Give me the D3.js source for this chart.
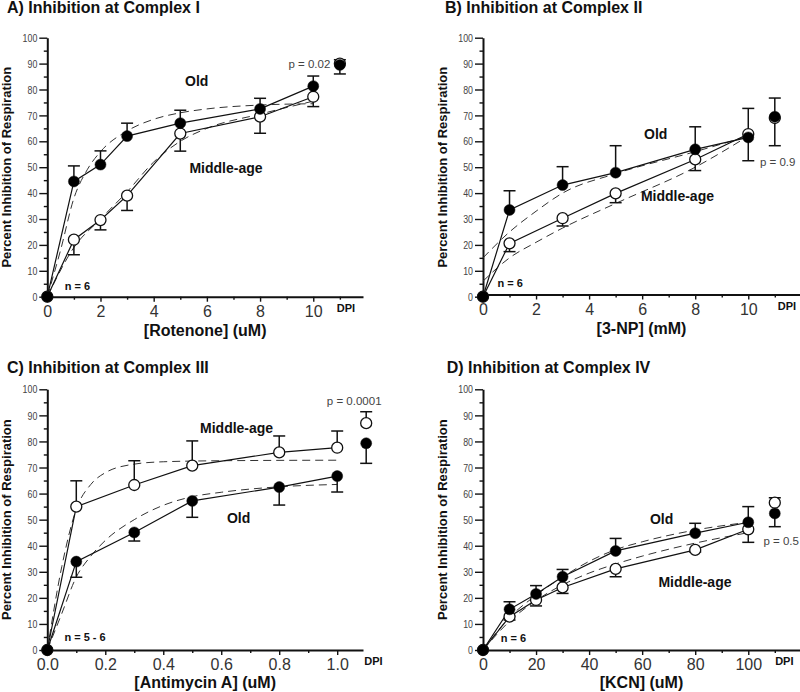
<!DOCTYPE html>
<html>
<head>
<meta charset="utf-8">
<script src="https://cdn.jsdelivr.net/npm/d3@7"></script>
<style>
  body { margin: 0; background: #fff; }
  svg { display: block; font-family: "Liberation Sans", Arial, sans-serif; }
</style>
</head>
<body>
<svg id="chart" width="800" height="692"></svg>
<script>
// shared y axis ticks
const yTicks = [0, 10, 20, 30, 40, 50, 60, 70, 80, 90, 100];
const yMinor = [5, 15, 25, 35, 45, 55, 65, 75, 85, 95];

// A) rotenone (uM) -- err > 0 is drawn up, < 0 down
const rotDose = [0, 1, 2, 3, 5, 8, 10];
const rotOld = [0, 44.5, 51, 62, 67, 72.5, 81.3];
const rotOldErr = [0, 6, 5.3, 5, 5, 4.1, 3.9];
const rotMid = [0, 22, 29.6, 39, 63, 69.5, 77.2];
const rotMidErr = [0, -5.8, -3.8, -5.7, -6.8, -6.4, -3.8];
const rotDpi = [89.5, 90];        // [old, middle-age]
const rotDpiErr = [-3.5, 1.5];
const rotOldFit = [[0, 0], [0.5, 18], [1, 38], [1.5, 49], [2, 56], [3, 64], [4, 68.5], [5, 71], [6, 72.5], [8, 74], [10, 74.5]];
const rotMidFit = [[0, 0], [1, 19], [2, 30], [3, 40.5], [4, 52], [5, 60], [6, 65], [8, 70.5], [10, 75.5]];
const rotTicks = [0, 2, 4, 6, 8, 10];
const rotMinor = [1, 3, 5, 7, 9, 11];

// B) 3-NP (mM)
const npDose = [0, 1, 3, 5, 8, 10];
const npOld = [0, 33.5, 43.1, 47.9, 56.9, 61.5];
const npOldErr = [0, 7.4, 7.1, 10.4, 8.7, -9];
const npMid = [0, 20.6, 30.3, 39.9, 53, 62.8];
const npMidErr = [0, -3.2, -3, -3.6, -4.3, 9.9];
const npDpi = [69.5, 69];
const npDpiErr = [7.2, -10.7];
const npOldFit = [[0, 15], [1, 25], [2, 33], [3, 40], [5, 47.5], [8, 56], [10, 62]];
const npMidFit = [[0, 6], [1, 15], [2, 21], [3, 26.5], [5, 36], [8, 50], [10, 62]];
const npTicks = [0, 2, 4, 6, 8, 10];
const npMinor = [1, 3, 5, 7, 9, 11];

// C) antimycin A (uM)
const antDose = [0, 0.1, 0.3, 0.5, 0.8, 1.0];
const antOld = [0, 33.9, 45.1, 57.2, 62.5, 66.7];
const antOldErr = [0, -6, -3.3, -6.3, -6.9, -6.1];
const antMid = [0, 55, 63.3, 70.7, 75.8, 77.6];
const antMidErr = [0, 9.9, 9.3, 9.5, 6.3, 6.4];
const antDpi = [79.3, 87];
const antDpiErr = [-7.7, 4.4];
const antOldFit = [[0, 0], [0.05, 14], [0.1, 28], [0.15, 36], [0.2, 42], [0.3, 50], [0.4, 55.5], [0.5, 58.8], [0.6, 60.5], [0.8, 62.6], [1.0, 63.5]];
const antMidFit = [[0, 0], [0.05, 32], [0.1, 54], [0.15, 63.5], [0.2, 68], [0.3, 71.3], [0.4, 72.2], [0.6, 72.6], [1.0, 72.8]];
const antTicks = [0, 0.2, 0.4, 0.6, 0.8, 1.0];
const antMinor = [0.1, 0.3, 0.5, 0.7, 0.9];

// D) KCN (uM)
const kcnDose = [0, 10, 20, 30, 50, 80, 100];
const kcnOld = [0, 15.6, 21.5, 28.1, 38, 44.8, 49];
const kcnOldErr = [0, 2.9, 3.2, 2.8, 4.8, 3.8, 6];
const kcnMid = [0, 12.8, 19.2, 24, 31.1, 38.4, 46.3];
const kcnMidErr = [0, -1.3, -2.3, -2.3, -3, -0.8, -5];
const kcnDpi = [52.4, 56.5];
const kcnDpiErr = [-5.1, 1.9];
const kcnOldFit = [[0, 0], [10, 12.5], [20, 21], [30, 28], [40, 34], [50, 38.5], [60, 41.5], [80, 46], [100, 49]];
const kcnMidFit = [[0, 0], [10, 11], [20, 19], [30, 25], [40, 29.5], [50, 33], [60, 36], [80, 41], [100, 45]];
const kcnTicks = [0, 20, 40, 60, 80, 100];
const kcnMinor = [10, 30, 50, 70, 90, 110];

const panels = [
  { title: "A) Inhibition at Complex I", titleX: 7, titleY: 13, left: 47.3, right: 363, top: 37.7, bottom: 296.7, axisY: 296.7,
    xMax: 11.87, xLabel: "[Rotenone] (uM)", xLabelY: 335.5, yTitleX: 11, dpiX: 11, dpiLabelX: 11.23,
    dose: rotDose, old: rotOld, oldErr: rotOldErr, mid: rotMid, midErr: rotMidErr, dpi: rotDpi, dpiErr: rotDpiErr,
    oldFit: rotOldFit, midFit: rotMidFit, ticks: rotTicks, minor: rotMinor, fmt: d3.format("d"),
    notes: [
      { t: "Old", x: 5.62, y: 81.3, a: "middle", cls: "lab" },
      { t: "Middle-age", x: 6.72, y: 47.6, a: "middle", cls: "lab" },
      { t: "n = 6", x: 0.66, y: 2.6, a: "start", cls: "n" },
      { t: "p = 0.02", x: 10.64, y: 88.4, a: "end", cls: "p" }
    ] },
  { title: "B) Inhibition at Complex II", titleX: 445, titleY: 13, left: 483, right: 800, top: 37.7, bottom: 296.7, axisY: 294.5,
    xMax: 11.95, xLabel: "[3-NP] (mM)", xLabelY: 333.5, yTitleX: 447, dpiX: 11, dpiLabelX: 11.46,
    dose: npDose, old: npOld, oldErr: npOldErr, mid: npMid, midErr: npMidErr, dpi: npDpi, dpiErr: npDpiErr,
    oldFit: npOldFit, midFit: npMidFit, ticks: npTicks, minor: npMinor, fmt: d3.format("d"),
    notes: [
      { t: "Old", x: 6.51, y: 60.9, a: "middle", cls: "lab" },
      { t: "Middle-age", x: 7.33, y: 37.1, a: "middle", cls: "lab" },
      { t: "n = 6", x: 0.55, y: 3.6, a: "start", cls: "n" },
      { t: "p = 0.9", x: 10.44, y: 50.6, a: "start", cls: "p" }
    ] },
  { title: "C) Inhibition at Complex III", titleX: 7, titleY: 373, left: 47.3, right: 363, top: 389.3, bottom: 650, axisY: 650,
    xMax: 1.089, xLabel: "[Antimycin A] (uM)", xLabelY: 688, yTitleX: 11, dpiX: 1.1, dpiLabelX: 1.125,
    dose: antDose, old: antOld, oldErr: antOldErr, mid: antMid, midErr: antMidErr, dpi: antDpi, dpiErr: antDpiErr,
    oldFit: antOldFit, midFit: antMidFit, ticks: antTicks, minor: antMinor, fmt: d3.format(".1f"),
    notes: [
      { t: "Middle-age", x: 0.653, y: 83.4, a: "middle", cls: "lab" },
      { t: "Old", x: 0.66, y: 48.8, a: "middle", cls: "lab" },
      { t: "n = 5 - 6", x: 0.059, y: 3.6, a: "start", cls: "n" },
      { t: "p = 0.0001", x: 1.153, y: 94, a: "end", cls: "p" }
    ] },
  { title: "D) Inhibition at Complex IV", titleX: 446.7, titleY: 373, left: 483, right: 800, top: 389.3, bottom: 650, axisY: 650,
    xMax: 119.5, xLabel: "[KCN] (uM)", xLabelY: 688, yTitleX: 447, dpiX: 110, dpiLabelX: 113.6,
    dose: kcnDose, old: kcnOld, oldErr: kcnOldErr, mid: kcnMid, midErr: kcnMidErr, dpi: kcnDpi, dpiErr: kcnDpiErr,
    oldFit: kcnOldFit, midFit: kcnMidFit, ticks: kcnTicks, minor: kcnMinor, fmt: d3.format("d"),
    notes: [
      { t: "Old", x: 67.35, y: 48.2, a: "middle", cls: "lab" },
      { t: "Middle-age", x: 79.9, y: 24, a: "middle", cls: "lab" },
      { t: "n = 6", x: 6.67, y: 3.2, a: "start", cls: "n" },
      { t: "p = 0.5", x: 105.7, y: 40.3, a: "start", cls: "p" }
    ] }
];

const svg = d3.select("#chart");
svg.append("rect").attr("width", 800).attr("height", 692).attr("fill", "#fff");

function drawPanel(p) {
  const g = svg.append("g");
  const x = d3.scaleLinear().domain([0, p.xMax]).range([p.left, p.right]);
  const y = d3.scaleLinear().domain([0, 100]).range([p.bottom, p.top]);

  g.append("text")
    .attr("x", p.titleX).attr("y", p.titleY)
    .attr("font-size", 16).attr("font-weight", "bold").attr("fill", "#111")
    .text(p.title);

  // y axis, labels squeezed to look like a narrow face
  const ya = g.append("g").attr("transform", `translate(${p.left},0)`)
    .call(d3.axisLeft(y).tickValues(yTicks).tickSize(8).tickPadding(2).tickSizeOuter(0));
  ya.attr("font-family", null).attr("font-size", null);
  ya.selectAll("text")
    .attr("font-size", 11.5).attr("fill", "#444")
    .attr("textLength", d => String(d).length * 4.9)
    .attr("lengthAdjust", "spacingAndGlyphs");
  g.append("g").attr("transform", `translate(${p.left},0)`)
    .call(d3.axisLeft(y).tickValues(yMinor).tickSize(3.5).tickFormat("").tickSizeOuter(0))
    .select(".domain").remove();

  // x axis
  const xa = g.append("g").attr("transform", `translate(0,${p.axisY})`)
    .call(d3.axisBottom(x).tickValues(p.ticks).tickFormat(p.fmt).tickSize(5).tickPadding(4).tickSizeOuter(0));
  xa.attr("font-family", null).attr("font-size", null);
  xa.selectAll("text").attr("font-size", 16).attr("fill", "#333");
  g.append("g").attr("transform", `translate(0,${p.axisY})`)
    .call(d3.axisBottom(x).tickValues(p.minor).tickSize(3).tickFormat("").tickSizeOuter(0))
    .select(".domain").remove();

  g.selectAll(".domain").attr("stroke", "#111").attr("stroke-width", 2);
  g.selectAll(".tick line").attr("stroke", "#111").attr("stroke-width", 1.4);

  g.append("text")
    .attr("x", x(p.dpiLabelX)).attr("y", p.axisY + 15)
    .attr("text-anchor", "middle").attr("font-size", 11).attr("font-weight", "bold").attr("fill", "#111")
    .text("DPI");

  // axis titles
  g.append("text")
    .attr("x", (p.left + p.right) / 2).attr("y", p.xLabelY)
    .attr("text-anchor", "middle").attr("font-size", 16).attr("font-weight", "bold").attr("fill", "#111")
    .text(p.xLabel);
  g.append("text")
    .attr("transform", `translate(${p.yTitleX},${(p.top + p.bottom) / 2}) rotate(-90)`)
    .attr("text-anchor", "middle").attr("font-size", 13).attr("font-weight", "bold").attr("fill", "#111")
    .text("Percent Inhibition of Respiration");

  // fitted curves (dashed)
  const fitLine = d3.line().x(d => x(d[0])).y(d => y(d[1])).curve(d3.curveMonotoneX);
  g.selectAll(".fit").data([p.oldFit, p.midFit]).join("path")
    .attr("d", fitLine).attr("fill", "none")
    .attr("stroke", "#333").attr("stroke-width", 1).attr("stroke-dasharray", "8,5");

  // connecting lines
  const series = [
    { vals: p.mid, err: p.midErr, dpi: p.dpi[1], dpiErr: p.dpiErr[1], filled: false },
    { vals: p.old, err: p.oldErr, dpi: p.dpi[0], dpiErr: p.dpiErr[0], filled: true }
  ];
  const line = d3.line().x((d, i) => x(p.dose[i])).y(d => y(d));
  g.selectAll(".conn").data(series).join("path")
    .attr("d", s => line(s.vals)).attr("fill", "none")
    .attr("stroke", "#111").attr("stroke-width", 1.2);

  series.forEach(s => {
    const pts = s.vals.map((v, i) => ({ x: p.dose[i], v: v, e: s.err[i] }));
    pts.push({ x: p.dpiX, v: s.dpi, e: s.dpiErr });

    // error bars
    const eb = g.append("g").attr("stroke", "#111").attr("stroke-width", 1.5);
    pts.filter(d => d.e !== 0).forEach(d => {
      eb.append("line").attr("x1", x(d.x)).attr("x2", x(d.x)).attr("y1", y(d.v)).attr("y2", y(d.v + d.e));
      eb.append("line").attr("x1", x(d.x) - 6).attr("x2", x(d.x) + 6).attr("y1", y(d.v + d.e)).attr("y2", y(d.v + d.e));
    });

    g.append("g").selectAll("circle").data(pts).join("circle")
      .attr("cx", d => x(d.x)).attr("cy", d => y(d.v)).attr("r", 5.5)
      .attr("fill", s.filled ? "#000" : "#fff")
      .attr("stroke", "#111").attr("stroke-width", s.filled ? 0.5 : 1.3);
  });

  // annotations
  p.notes.forEach(n => {
    const t = g.append("text")
      .attr("x", x(n.x)).attr("y", y(n.y)).attr("text-anchor", n.a)
      .text(n.t);
    if (n.cls === "lab") t.attr("font-size", 14).attr("font-weight", "bold").attr("fill", "#111");
    if (n.cls === "n") t.attr("font-size", 11).attr("font-weight", "bold").attr("fill", "#111");
    if (n.cls === "p") t.attr("font-size", 11.5).attr("fill", "#444");
  });
}

panels.forEach(drawPanel);
</script>
</body>
</html>
